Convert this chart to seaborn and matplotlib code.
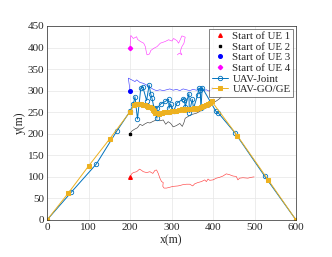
import numpy as np
import pandas as pd
import seaborn as sns
import matplotlib.pyplot as plt

# trayectorias de los usuarios
ue1_x = [200, 204, 208, 216, 223, 228, 232, 240, 248, 255, 260, 264, 268, 272, 276, 280, 279, 282, 288, 296, 304, 316, 328, 336, 344, 351, 356, 364, 372, 380, 384, 388, 392, 400, 408, 416, 424, 432, 440, 448, 456, 460, 464, 472, 484, 492, 499]
ue1_y = [100, 107, 110, 112, 118, 115, 112, 110, 112, 108, 115, 116, 108, 97, 89, 87, 78, 74, 74, 76, 78, 79, 82, 83, 83, 79, 84, 87, 89, 93, 89, 95, 92, 93, 97, 99, 102, 107, 105, 102, 101, 93, 97, 98, 97, 99, 100]

ue2_x = [200, 204, 210, 218, 224, 230, 236, 242, 248, 256, 264, 272, 280, 286, 292, 298, 304, 312, 320, 326, 330, 333, 340, 346, 354, 361, 368, 376, 384, 392, 400, 408, 414, 420]
ue2_y = [200, 206, 210, 214, 222, 219, 223, 226, 225, 229, 232, 230, 232, 222, 228, 224, 216, 219, 224, 217, 226, 236, 240, 244, 246, 248, 252, 256, 260, 262, 272, 276, 280, 285]

ue3_x = [200, 196, 204, 212, 216, 224, 232, 240, 248, 256, 264, 272, 280, 288, 296, 304, 312, 320, 328, 336, 344, 352, 360, 368, 376, 384, 390, 396, 398, 400]
ue3_y = [300, 329, 325, 321, 325, 319, 317, 313, 308, 303, 300, 302, 300, 302, 304, 301, 303, 300, 304, 302, 300, 303, 301, 304, 300, 302, 299, 302, 308, 302]

ue4_x = [200, 202, 208, 216, 218, 225, 233, 237, 239, 241, 247, 250, 257, 265, 273, 285, 293, 301, 305, 313, 317, 321, 325, 333, 330, 325, 321, 325, 319, 314]
ue4_y = [400, 428, 421, 425, 419, 414, 410, 402, 391, 383, 385, 393, 398, 402, 410, 414, 418, 415, 421, 416, 410, 418, 427, 424, 410, 402, 391, 383, 387, 383]

# trayectorias del UAV
joint_x = [0, 59, 119, 168, 200, 208, 212, 218, 226, 231, 240, 246, 250, 253, 258, 265, 265, 274, 285, 293, 294, 298, 305, 313, 327, 331, 333, 342, 343, 350, 353, 363, 366, 369, 371, 374, 407, 413, 453, 525, 600]
joint_y = [0, 65, 130, 206, 252, 268, 286, 234, 306, 308, 277, 313, 292, 282, 259, 236, 259, 269, 275, 280, 259, 269, 252, 271, 280, 279, 263, 293, 249, 280, 259, 290, 306, 302, 259, 307, 252, 248, 202, 101, 0]

goge_x = [0, 51, 100, 151, 200, 210, 214, 219, 223, 227, 232, 236, 240, 244, 249, 253, 256, 258, 261, 265, 271, 276, 282, 289, 295, 300, 305, 312, 318, 325, 330, 336, 342, 348, 354, 360, 366, 372, 377, 383, 388, 393, 397, 459, 533, 600]
goge_y = [0, 62, 125, 188, 251, 266, 268, 270, 269, 268, 267, 266, 265, 263, 262, 259, 256, 252, 248, 247, 246, 249, 250, 251, 251, 252, 252, 253, 255, 257, 256, 258, 258, 258, 259, 258, 260, 262, 265, 267, 270, 272, 275, 195, 93, 0]

inicio_x = [200, 200, 200, 200]
inicio_y = [100, 200, 300, 400]

sns.set_style("whitegrid")
plt.rcParams['font.family'] = ['Liberation Serif', 'DejaVu Serif']
plt.rcParams['font.size'] = 8

fig = plt.figure(figsize=(3.32, 2.57), dpi=100)
ax = fig.add_axes([0.1416, 0.144, 0.75, 0.755])

# caminos de los usuarios
colores_ue = ['#FF0000', '#000000', '#0000FF', '#FF00FF']
caminos = [(ue1_x, ue1_y), (ue2_x, ue2_y), (ue3_x, ue3_y), (ue4_x, ue4_y)]
for (cx, cy), c in zip(caminos, colores_ue):
    sns.lineplot(x=cx, y=cy, sort=False, estimator=None, color=c, lw=0.45, alpha=0.75, ax=ax)

# puntos de inicio
marcadores = ['^', 's', 'o', 'D']
tam = [2.6, 1.8, 2.6, 2.2]
for i in range(4):
    ax.plot(inicio_x[i], inicio_y[i], linestyle='none', marker=marcadores[i], color=colores_ue[i],
            ms=tam[i], label='Start of UE ' + str(i + 1))

sns.lineplot(x=joint_x, y=joint_y, sort=False, estimator=None, color='#0072BD', lw=0.7,
             marker='o', markersize=3.2, markerfacecolor='none', markeredgecolor='#0072BD',
             markeredgewidth=0.6, label='UAV-Joint', ax=ax)
sns.lineplot(x=goge_x, y=goge_y, sort=False, estimator=None, color='#EDB120', lw=0.7,
             marker='s', markersize=2.3, markeredgecolor='#EDB120', label='UAV-GO/GE', ax=ax)

ax.set_xlim(0, 600)
ax.set_ylim(0, 450)
ax.set_xticks(np.arange(0, 601, 100))
ax.set_yticks(np.arange(0, 451, 50))
ax.set_xlabel('x(m)', fontsize=8.5, labelpad=2)
ax.set_ylabel('y(m)', fontsize=8.5, labelpad=1)
ax.grid(True, color='#E6E6E6', lw=0.5)
ax.tick_params(direction='in', length=2, width=0.5, labelsize=8, pad=2, color='#262626')
for s in ax.spines.values():
    s.set_color('#262626')
    s.set_linewidth(0.5)

leg = ax.legend(loc='upper right', fontsize=7.8, frameon=True, fancybox=False, edgecolor='#262626',
                borderpad=0.25, labelspacing=0.1, handlelength=1.5, handletextpad=0.4, borderaxespad=0.25)
leg.get_frame().set_linewidth(0.5)

fig.savefig('out.png', dpi=100)
